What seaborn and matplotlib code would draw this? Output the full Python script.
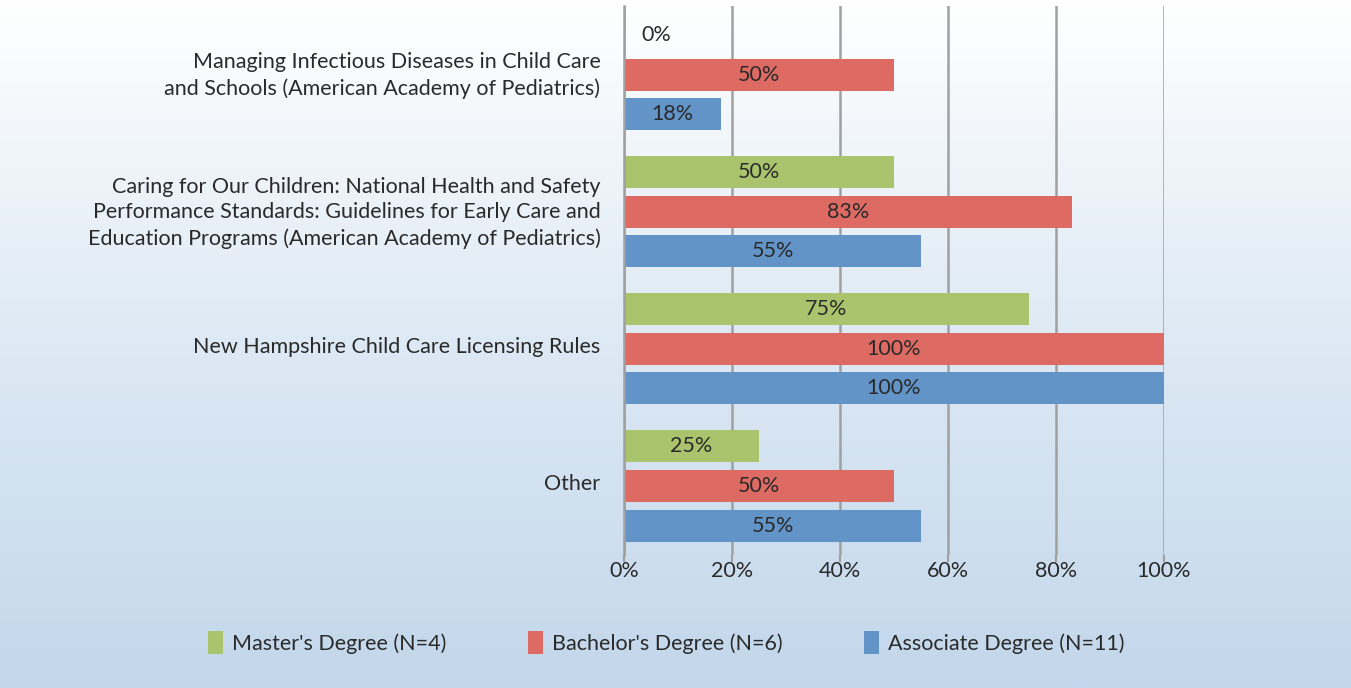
import seaborn as sns
import matplotlib.pyplot as plt
import matplotlib.colors as mcolors
import matplotlib.transforms as mtransforms
from matplotlib.patches import Patch
import pandas as pd
import numpy as np

# data
categories = [
    "Managing Infectious Diseases in Child Care\nand Schools (American Academy of Pediatrics)",
    "Caring for Our Children: National Health and Safety\nPerformance Standards: Guidelines for Early Care and\nEducation Programs (American Academy of Pediatrics)",
    "New Hampshire Child Care Licensing Rules",
    "Other",
]
degrees = ["Master's Degree (N=4)", "Bachelor's Degree (N=6)", "Associate Degree (N=11)"]
masters = [0, 50, 75, 25]
bachelors = [50, 83, 100, 50]
associates = [18, 55, 100, 55]
colors = ["#a9c46c", "#dd6a63", "#6294c8"]
x_ticks = [0, 20, 40, 60, 80, 100]

rows = []
for deg, vals in zip(degrees, [masters, bachelors, associates]):
    for cat, v in zip(categories, vals):
        rows.append({"category": cat, "degree": deg, "value": v})
df = pd.DataFrame(rows)

sns.set_theme(style="white")
plt.rcParams['font.family'] = ['Lato', 'DejaVu Sans']
text_color = "#2a2a2a"
fs = 15.5

fig = plt.figure(figsize=(13.51, 6.88), dpi=100)

# gradient background: white at top to light blue at bottom
bg = fig.add_axes([0, 0, 1, 1], zorder=-10)
cmap = mcolors.LinearSegmentedColormap.from_list("bg", ["#ffffff", "#dde9f4", "#c3d7eb"])
grad = np.linspace(0, 1, 256).reshape(-1, 1)
bg.imshow(grad, aspect="auto", cmap=cmap, extent=[0, 1, 0, 1], origin="upper")
bg.axis("off")

ax = fig.add_axes([0.4619, 0.194, 0.3997, 0.797])
ax.set_facecolor("none")

sns.barplot(data=df, y="category", x="value", hue="degree", hue_order=degrees,
            palette=dict(zip(degrees, colors)), orient="h", width=0.865, gap=0.19,
            saturation=1, linewidth=0, legend=False, ax=ax)

ax.set_xlim(0, 100)
ax.set_xticks(x_ticks)
ax.set_xticklabels([f"{t}%" for t in x_ticks], fontsize=fs, color=text_color)
ax.set_xlabel("")
ax.set_ylabel("")
ax.tick_params(axis="y", length=0, pad=17, labelsize=fs, labelcolor=text_color)
ax.tick_params(axis="x", length=5, width=1.5, color="#a0a0a0", pad=0, bottom=True)
# nudge category labels up a little, as in the original
shift = mtransforms.ScaledTranslation(0, 4 / 100, fig.dpi_scale_trans)
for lbl in ax.get_yticklabels():
    lbl.set_multialignment("right")
    lbl.set_linespacing(1.35)
    lbl.set_transform(lbl.get_transform() + shift)

ax.grid(axis="x", color="#a0a0a0", linewidth=1.8)
ax.set_axisbelow(True)
for s in ["top", "right", "bottom"]:
    ax.spines[s].set_visible(False)
ax.spines["left"].set_color("#a0a0a0")
ax.spines["left"].set_linewidth(1.8)

# value labels centred in each bar
for container in ax.containers:
    for bar in container:
        w = bar.get_width()
        y = bar.get_y() + bar.get_height() / 2
        xpos = w / 2 if w > 0 else 6
        ax.text(xpos, y, f"{w:.0f}%", ha="center", va="center",
                fontsize=fs, color=text_color)

handles = [Patch(facecolor=c, edgecolor="none") for c in colors]
fig.legend(handles, degrees, loc="center", bbox_to_anchor=(0.493, 0.066), ncol=3,
           frameon=False, fontsize=fs, handlelength=0.7, handleheight=1.2,
           handletextpad=0.4, columnspacing=3.8, labelcolor=text_color)

fig.savefig("out.png", dpi=100)
